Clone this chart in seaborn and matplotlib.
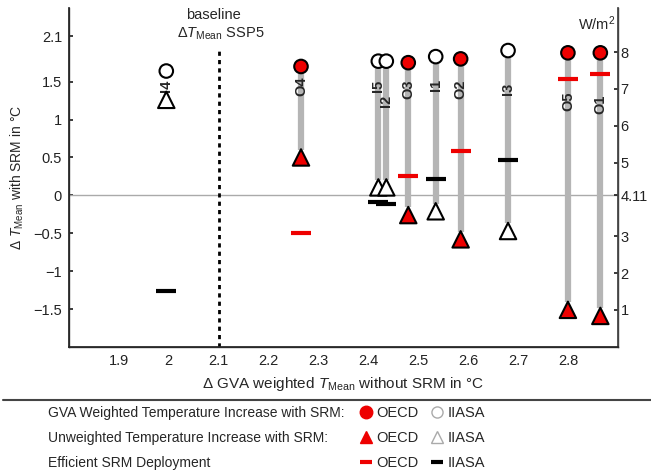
import seaborn as sns
import numpy as np
import pandas as pd
import matplotlib.pyplot as plt
from matplotlib.lines import Line2D

# scenario data
labels = ['I4', 'O4', 'I5', 'I2', 'O3', 'I1', 'O2', 'I3', 'O5', 'O1']
source = ['IIASA', 'OECD', 'IIASA', 'IIASA', 'OECD', 'IIASA', 'OECD', 'IIASA', 'OECD', 'OECD']
t_no_srm = [1.995, 2.265, 2.42, 2.436, 2.48, 2.535, 2.585, 2.68, 2.80, 2.865]
t_gva_srm = [1.64, 1.70, 1.77, 1.77, 1.75, 1.83, 1.80, 1.91, 1.88, 1.88]
t_unw_srm = [1.26, 0.50, 0.105, 0.105, -0.26, -0.21, -0.58, -0.47, -1.51, -1.59]
t_efficient = [-1.26, -0.50, -0.09, -0.11, 0.26, 0.21, 0.58, 0.46, 1.53, 1.60]
baseline = 2.1
forcing_at_zero = 4.11
forcing_per_deg = 2.06
x_ticks = [1.9, 2.0, 2.1, 2.2, 2.3, 2.4, 2.5, 2.6, 2.7, 2.8]
y_ticks = [-1.5, -1, -0.5, 0, 0.5, 1, 1.5, 2.1]
w_ticks = [1, 2, 3, 4.11, 5, 6, 7, 8]

# layout: top of each rotated scenario label
label_top = [1.53, 1.57, 1.53, 1.33, 1.53, 1.53, 1.53, 1.49, 1.37, 1.33]

df = pd.DataFrame({'label': labels, 'source': source, 'x': t_no_srm,
                   'gva': t_gva_srm, 'unw': t_unw_srm, 'eff': t_efficient})

sns.set_theme(style='white')
plt.rcParams['font.family'] = ['Liberation Sans', 'DejaVu Sans']
plt.rcParams['mathtext.fontset'] = 'custom'
plt.rcParams['mathtext.rm'] = 'Liberation Sans'
plt.rcParams['mathtext.it'] = 'Liberation Sans:italic'
plt.rcParams['mathtext.bf'] = 'Liberation Sans:bold'

RED = '#ee0000'
GREY = '#b5b5b5'
pal = {'OECD': RED, 'IIASA': 'white'}

fig = plt.figure(figsize=(6.51, 4.76), dpi=100)
ax = fig.add_axes([0.106, 0.271, 0.843, 0.712])

ax.axhline(0, color='#aaaaaa', lw=1, zorder=1)
ax.vlines(baseline, -2.0, 1.96, colors='black', linestyles=(0, (1.5, 1.5)), lw=2, zorder=2)

bars = df[df['x'] > baseline]
ax.vlines(bars['x'], bars['unw'] + 0.1, bars['gva'] - 0.08, colors=GREY, lw=4.5, zorder=2)

for _, r in df.iterrows():
    i = labels.index(r['label'])
    ax.text(r['x'], label_top[i], r['label'], rotation=90, ha='center', va='top',
            fontsize=10.5, fontweight='bold', zorder=3)

sns.scatterplot(data=df, x='x', y='gva', hue='source', palette=pal, marker='o', s=95,
                edgecolor='black', linewidth=1.5, legend=False, zorder=4, ax=ax)
sns.scatterplot(data=df, x='x', y='unw', hue='source', palette=pal, marker='^', s=140,
                edgecolor='black', linewidth=1.5, legend=False, zorder=4, ax=ax)
for src, col in [('OECD', RED), ('IIASA', 'black')]:
    sub = df[df['source'] == src]
    ax.plot(sub['x'], sub['eff'], ls='none', marker='_', ms=15, mew=3, color=col, zorder=4)

ax.set_xlim(1.8, 2.9)
ax.set_ylim(-2.0, 2.47)
ax.set_xticks(x_ticks)
ax.set_xticklabels([f'{v:g}' for v in x_ticks])
ax.set_yticks(y_ticks)
ax.set_yticklabels([f'{v:g}'.replace('-', '\u2212') for v in y_ticks])
ax.tick_params(direction='in', length=3, labelsize=10.5, colors='#222222', pad=5)
ax.spines['top'].set_visible(False)
for s in ['left', 'bottom', 'right']:
    ax.spines[s].set_color('#444444')
    ax.spines[s].set_linewidth(1)
ax.set_xlabel(r'$\Delta$ GVA weighted $T_{\mathrm{Mean}}$ without SRM in °C', fontsize=11, labelpad=5)
ax.set_ylabel(r'$\Delta$ $T_{\mathrm{Mean}}$ with SRM in °C', fontsize=10, labelpad=5)

ax2 = ax.twinx()
lo, hi = ax.get_ylim()
ax2.set_ylim(forcing_at_zero + forcing_per_deg * lo, forcing_at_zero + forcing_per_deg * hi)
ax2.set_yticks(w_ticks)
ax2.set_yticklabels([f'{v:g}' for v in w_ticks])
ax2.tick_params(direction='in', length=3, labelsize=10.5, colors='#222222', pad=2)
ax2.spines['top'].set_visible(False)
ax2.spines['right'].set_color('#444444')
ax2.text(0.995, 0.955, 'W/m$^2$', transform=ax2.transAxes, ha='right', va='center', fontsize=10.5)

ax.text(baseline - 0.01, 2.38, 'baseline', ha='center', va='center', fontsize=10.5)
ax.text(baseline + 0.005, 2.13, r'$\Delta T_{\mathrm{Mean}}$ SSP5', ha='center', va='center', fontsize=10.5)

# legend block under the plot
fig.add_artist(Line2D([0.005, 1.0], [0.16, 0.16], color='#444444', lw=1.5))
rows = ['GVA Weighted Temperature Increase with SRM:',
        'Unweighted Temperature Increase with SRM:',
        'Efficient SRM Deployment']
row_y = [0.132, 0.080, 0.027]
handles = [
    [Line2D([], [], ls='none', marker='o', ms=9, color=RED, mec=RED),
     Line2D([], [], ls='none', marker='o', ms=8, mfc='white', mec='#aaaaaa', mew=1)],
    [Line2D([], [], ls='none', marker='^', ms=9, color=RED, mec=RED),
     Line2D([], [], ls='none', marker='^', ms=9, mfc='white', mec='#aaaaaa', mew=1)],
    [Line2D([], [], ls='none', marker='_', ms=8, mew=3, color=RED),
     Line2D([], [], ls='none', marker='_', ms=8, mew=3, color='black')],
]
for txt, yy, hs in zip(rows, row_y, handles):
    fig.text(0.074, yy, txt, ha='left', va='center', fontsize=10)
    leg = fig.legend(hs, ['OECD', 'IIASA'], loc='center left', bbox_to_anchor=(0.553, yy),
                     ncol=2, frameon=False, fontsize=10.5, handlelength=0.8,
                     handletextpad=0.3, columnspacing=0.9, borderpad=0, borderaxespad=0)

fig.savefig('out.png', dpi=100)
